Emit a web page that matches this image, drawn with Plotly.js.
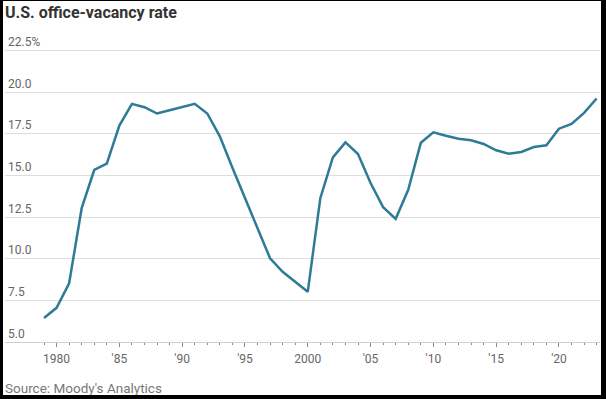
<!DOCTYPE html>
<html>
<head>
<meta charset="utf-8">
<script src="https://cdn.plot.ly/plotly-3.0.1.min.js"></script>
<style>
  html, body { margin: 0; padding: 0; background: #000; width: 606px; height: 399px; overflow: hidden; }
  #chart { position: absolute; left: 3px; top: 1px; width: 598px; height: 394px; background: #fff; }
</style>
</head>
<body>
<div id="chart"></div>
<script>
const years = [1979,1980,1981,1982,1983,1984,1985,1986,1987,1988,1989,1990,1991,1992,1993,1994,1995,1996,1997,1998,1999,2000,2001,2002,2003,2004,2005,2006,2007,2008,2009,2010,2011,2012,2013,2014,2015,2016,2017,2018,2019,2020,2021,2022,2023];
const vacancyRate = [6.44,7.05,8.52,13.03,15.32,15.70,17.99,19.29,19.09,18.71,18.91,19.09,19.29,18.71,17.34,15.45,13.65,11.86,10.02,9.21,8.61,8.01,13.63,16.08,16.98,16.28,14.54,13.09,12.39,14.13,16.95,17.58,17.38,17.20,17.10,16.88,16.50,16.30,16.40,16.70,16.80,17.80,18.09,18.75,19.61];
const xTickVals = [1980,1985,1990,1995,2000,2005,2010,2015,2020];
const xTickText = ["1980","'85","'90","'95","2000","'05","'10","'15","'20"];
const yTickVals = [5,7.5,10,12.5,15,17.5,20,22.5];
const yTickText = ["5.0","7.5","10.0","12.5","15.0","17.5","20.0","22.5%"];

const trace = {
  x: years,
  y: vacancyRate,
  type: 'scatter',
  mode: 'lines',
  line: { color: '#2e7b96', width: 2.5 },
  hoverinfo: 'skip'
};

const layout = {
  width: 598,
  height: 394,
  margin: { l: 2, r: 1, t: 16, b: 53, pad: 0 },
  paper_bgcolor: '#ffffff',
  plot_bgcolor: '#ffffff',
  showlegend: false,
  title: {
    text: 'U.S. office-vacancy rate',
    font: { family: 'Roboto, sans-serif', size: 16, color: '#333333', weight: 'bold' },
    x: 0, xref: 'paper', xanchor: 'left',
    y: 1 - 11 / 394, yref: 'container', yanchor: 'middle'
  },
  xaxis: {
    range: [1975.895, 2023.268],
    tickmode: 'array',
    tickvals: xTickVals,
    ticktext: xTickText,
    ticks: 'outside',
    ticklen: 4,
    tickwidth: 1,
    tickcolor: '#8a8a8a',
    ticklabelstandoff: 2,
    showgrid: false,
    zeroline: false,
    showline: true,
    linecolor: '#d0d0d0',
    linewidth: 1,
    tickfont: { family: 'Roboto, sans-serif', size: 12, color: '#666666' },
    minor: { tickmode: 'linear', tick0: 1979, dtick: 1, ticks: 'outside', ticklen: 2, tickcolor: '#8a8a8a', showgrid: false },
    fixedrange: true
  },
  yaxis: {
    range: [5, 24.5],
    tickmode: 'array',
    tickvals: yTickVals,
    ticktext: yTickText,
    ticks: '',
    ticklabelposition: 'inside top',
    showgrid: true,
    gridcolor: '#dedede',
    gridwidth: 1,
    zeroline: false,
    showline: false,
    tickfont: { family: 'Roboto, sans-serif', size: 12, color: '#666666' },
    fixedrange: true
  },
  annotations: [{
    text: "Source: Moody's Analytics",
    xref: 'paper', yref: 'paper',
    x: 0, y: -(386.5 - 341) / 325,
    xanchor: 'left', yanchor: 'middle',
    xshift: -2,
    showarrow: false,
    font: { family: 'Roboto, sans-serif', size: 13.5, color: '#777777' }
  }]
};

Plotly.newPlot('chart', [trace], layout, { staticPlot: true, displayModeBar: false });
</script>
</body>
</html>
